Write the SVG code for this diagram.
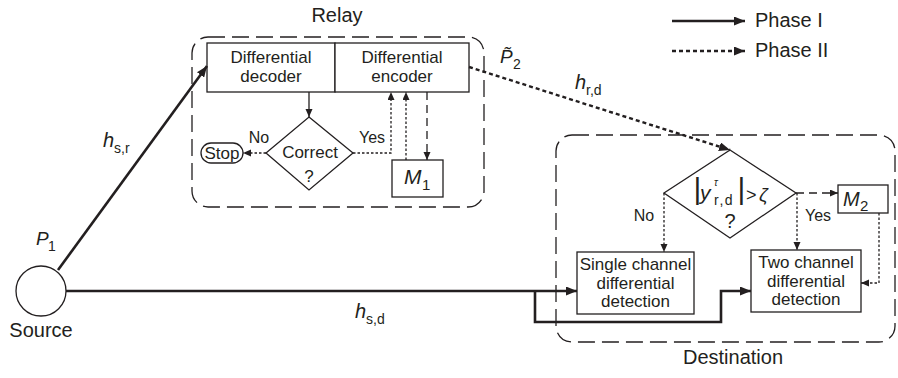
<svg xmlns="http://www.w3.org/2000/svg" width="898" height="378" viewBox="0 0 898 378">
<style>
.t{font-family:"Liberation Sans",Arial,sans-serif;fill:#231f20}
.lbl{font-size:20px}
.in{font-size:17px}
.it{font-style:italic}
.box{fill:#fff;stroke:#231f20;stroke-width:1.3}
.bound{fill:none;stroke:#231f20;stroke-width:1.3;stroke-dasharray:17 7}
.p1{fill:none;stroke:#231f20;stroke-width:2.6}
.p2{fill:none;stroke:#231f20;stroke-width:2.4;stroke-dasharray:4 3}
.dot{fill:none;stroke:#231f20;stroke-width:1.3;stroke-dasharray:2.5 2}
.dash{fill:none;stroke:#231f20;stroke-width:1.3;stroke-dasharray:8 5}
.thin{fill:none;stroke:#231f20;stroke-width:1.3}
</style>
<defs>
<marker id="ab" markerUnits="userSpaceOnUse" markerWidth="12" markerHeight="9" refX="11" refY="4.5" orient="auto"><path d="M0,0 L11,4.5 L0,9 z" fill="#231f20"/></marker>
<marker id="as" markerUnits="userSpaceOnUse" markerWidth="9" markerHeight="8" refX="8" refY="3.5" orient="auto"><path d="M0,0 L8,3.5 L0,7 z" fill="#231f20"/></marker>
</defs>
<rect width="898" height="378" fill="#fff"/>

<g id="legend">
<line class="p1" x1="672" y1="21" x2="745" y2="21" marker-end="url(#ab)"/>
<text class="t lbl" x="755" y="27">Phase I</text>
<line class="p2" x1="672" y1="51" x2="745" y2="51" marker-end="url(#ab)"/>
<text class="t lbl" x="755" y="57">Phase II</text>
</g>

<g id="relay">
<rect class="bound" x="192" y="37" width="292" height="170" rx="16"/>
<text class="t lbl" x="337" y="22" text-anchor="middle">Relay</text>
</g>
<g id="decoder">
<rect class="box" x="207" y="43" width="128" height="49"/>
<text class="t in" x="271" y="63" text-anchor="middle">Differential</text>
<text class="t in" x="271" y="82" text-anchor="middle">decoder</text>
</g>
<g id="encoder">
<rect class="box" x="335" y="43" width="134" height="49"/>
<text class="t in" x="402" y="63" text-anchor="middle">Differential</text>
<text class="t in" x="402" y="82" text-anchor="middle">encoder</text>
</g>
<g id="correct">
<polygon class="box" points="309,117 353,153 309,190 266,153"/>
<text class="t in" x="310" y="158" text-anchor="middle">Correct</text>
<text class="t in" x="309" y="182" text-anchor="middle">?</text>
</g>
<g id="stop">
<rect class="box" x="201" y="143" width="42" height="20" rx="10"/>
<text class="t" x="222" y="159" text-anchor="middle" font-size="17">Stop</text>
</g>
<g id="m1">
<rect class="box" x="392" y="160" width="51" height="37"/>
<text class="t it" x="404" y="184" font-size="21">M</text>
<text class="t" x="422" y="190" font-size="15">1</text>
</g>

<g id="destination">
<rect class="bound" x="556" y="135" width="339" height="207" rx="16"/>
<text class="t lbl" x="733" y="364" text-anchor="middle">Destination</text>
</g>
<g id="threshold">
<polygon class="box" points="730,150 796,193 730,238 664,193"/>
<text class="t" x="693.5" y="198.5" font-size="30">|</text>
<text class="t it" x="700" y="200" font-size="21">y</text>
<text class="t it" x="714" y="186" font-size="10">τ</text>
<text class="t" x="714" y="205" font-size="14" letter-spacing="1.5">r,d</text>
<text class="t" x="737.5" y="198.5" font-size="30">|</text>
<text class="t" x="746" y="201" font-size="18">&gt;</text>
<text class="t it" x="759" y="201" font-size="19">ζ</text>
<text class="t" x="730" y="228" font-size="20" text-anchor="middle">?</text>
</g>
<g id="m2">
<rect class="box" x="838" y="185" width="50" height="28"/>
<text class="t it" x="843" y="206" font-size="20">M</text>
<text class="t" x="860" y="211" font-size="15">2</text>
</g>
<g id="single">
<rect class="box" x="577" y="252" width="117" height="62"/>
<text class="t in" x="635.5" y="270" text-anchor="middle">Single channel</text>
<text class="t in" x="635.5" y="289" text-anchor="middle">differential</text>
<text class="t in" x="635.5" y="307" text-anchor="middle">detection</text>
</g>
<g id="two">
<rect class="box" x="751" y="250" width="110" height="62"/>
<text class="t in" x="806" y="268" text-anchor="middle">Two channel</text>
<text class="t in" x="806" y="287" text-anchor="middle">differential</text>
<text class="t in" x="806" y="305" text-anchor="middle">detection</text>
</g>
<g id="source">
<circle cx="41" cy="291" r="25" fill="#fff" stroke="#231f20" stroke-width="1.3"/>
<text class="t lbl" x="41" y="337" text-anchor="middle">Source</text>
</g>

<g id="connectors">
<line class="p1" x1="58" y1="270" x2="207" y2="66" marker-end="url(#ab)"/>
<polyline class="p1" points="66,291 577,291" marker-end="url(#ab)"/>
<polyline class="p1" points="535,291 535,322 721,322 721,291 751,291" marker-end="url(#ab)"/>
<line class="p2" x1="469" y1="67" x2="730" y2="150" marker-end="url(#ab)"/>
<line class="thin" x1="309" y1="92" x2="309" y2="117" marker-end="url(#as)"/>
<line class="dot" x1="266" y1="153" x2="243" y2="153" marker-end="url(#as)"/>
<polyline class="dot" points="353,153 391,153 391,92" marker-end="url(#as)"/>
<line class="dot" x1="406" y1="160" x2="406" y2="92" marker-end="url(#as)"/>
<line class="dash" x1="427" y1="92" x2="427" y2="160" marker-end="url(#as)"/>
<line class="dash" x1="796" y1="193" x2="838" y2="193" marker-end="url(#as)"/>
<line class="dot" x1="664" y1="193" x2="664" y2="252" marker-end="url(#as)"/>
<line class="dot" x1="797" y1="193" x2="797" y2="250" marker-end="url(#as)"/>
<polyline class="dot" points="879,213 879,283 861,283" marker-end="url(#as)"/>
</g>

<g id="labels">
<text class="t" x="259" y="143" text-anchor="middle" font-size="16">No</text>
<text class="t" x="372" y="143" text-anchor="middle" font-size="16">Yes</text>
<text class="t" x="644" y="221" text-anchor="middle" font-size="16">No</text>
<text class="t" x="818" y="221" text-anchor="middle" font-size="16">Yes</text>
<text class="t it" x="103" y="147" font-size="20">h</text>
<text class="t" x="114" y="153" font-size="14">s,r</text>
<text class="t it" x="36" y="245" font-size="19">P</text>
<text class="t" x="48" y="251" font-size="14">1</text>
<text class="t it" x="355" y="318" font-size="20">h</text>
<text class="t" x="366" y="324" font-size="14">s,d</text>
<text class="t it" x="575" y="89" font-size="20">h</text>
<text class="t" x="586" y="95" font-size="14">r,d</text>
<text class="t it" x="500" y="63" font-size="19">P&#x303;</text>
<text class="t" x="513" y="69" font-size="14">2</text>
</g>
</svg>
